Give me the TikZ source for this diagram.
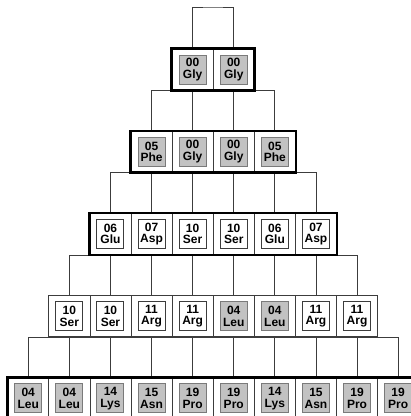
\documentclass[tikz,border=0pt]{standalone}
\usepackage{fontspec}
\setmainfont{Liberation Sans}
\usetikzlibrary{calc}
\definecolor{Wire}{HTML}{3C3C3C}
\definecolor{Shade}{HTML}{C2C2C2}
\definecolor{Rim}{HTML}{7A7A7A}
\tikzset{cell/.style={draw=Wire,line width=.8pt,minimum width=41.1pt,minimum height=41.1pt,inner sep=0pt},res/.style={line width=1pt,minimum width=27pt,minimum height=29pt,inner sep=0pt,align=center,font=\bfseries\fontsize{12}{11.5}\selectfont},band/.style={draw=black,line width=2.6pt},wire/.style={draw=Wire,line width=.8pt}}

\begin{document}
\begin{tikzpicture}[x=1pt,y=-1pt]
\useasboundingbox (0,0) rectangle (411,416);
\clip (0,0) rectangle (411,416);
% rows of residues
\foreach \num/\aa/\tone/\edge [count=\i] in {00/Gly/Shade/Rim,00/Gly/Shade/Rim}{
  \node[cell] (c1-\i) at ({213.2+(\i-1.5)*41.1},69.6) {};
  \node[res,fill=\tone,draw=\edge] (r1-\i) at (c1-\i) {\num\\\aa};}
\foreach \num/\aa/\tone/\edge [count=\i] in {05/Phe/Shade/Rim,00/Gly/Shade/Rim,00/Gly/Shade/Rim,05/Phe/Shade/Rim}{
  \node[cell] (c2-\i) at ({213.2+(\i-2.5)*41.1},151.8) {};
  \node[res,fill=\tone,draw=\edge] (r2-\i) at (c2-\i) {\num\\\aa};}
\foreach \num/\aa/\tone/\edge [count=\i] in {06/Glu/white/Wire,07/Asp/white/Wire,10/Ser/white/Wire,10/Ser/white/Wire,06/Glu/white/Wire,07/Asp/white/Wire}{
  \node[cell] (c3-\i) at ({213.2+(\i-3.5)*41.1},234) {};
  \node[res,fill=\tone,draw=\edge] (r3-\i) at (c3-\i) {\num\\\aa};}
\foreach \num/\aa/\tone/\edge [count=\i] in {10/Ser/white/Wire,10/Ser/white/Wire,11/Arg/white/Wire,11/Arg/white/Wire,04/Leu/Shade/Rim,04/Leu/Shade/Rim,11/Arg/white/Wire,11/Arg/white/Wire}{
  \node[cell] (c4-\i) at ({213.2+(\i-4.5)*41.1},316.2) {};
  \node[res,fill=\tone,draw=\edge] (r4-\i) at (c4-\i) {\num\\\aa};}
\foreach \num/\aa/\tone/\edge [count=\i] in {04/Leu/Shade/Rim,04/Leu/Shade/Rim,14/Lys/Shade/Rim,15/Asn/Shade/Rim,19/Pro/Shade/Rim,19/Pro/Shade/Rim,14/Lys/Shade/Rim,15/Asn/Shade/Rim,19/Pro/Shade/Rim,19/Pro/Shade/Rim}{
  \node[cell] (c5-\i) at ({213.2+(\i-5.5)*41.1},398.4) {};
  \node[res,fill=\tone,draw=\edge] (r5-\i) at (c5-\i) {\num\\\aa};}
% branches
\coordinate (root) at (213.2,7);
\draw[wire] (c1-1.north) |- (root) -| (c1-2.north);
\foreach \r/\m in {1/4,2/6,3/8,4/10}{
  \pgfmathtruncatemacro\s{\r+1}
  \pgfmathtruncatemacro\k{\m-1}
  \draw[wire] (c\s-1.north) |- (c\r-1.south) -| (c\s-\m.north);
  \foreach \i in {2,...,\k}
    \draw[wire] (c\s-\i.north) -- (c\s-\i.north |- c\r-1.south);}
% bold frames
\draw[band] (c1-1.north west) rectangle (c1-2.south east);
\draw[band] (c2-1.north west) rectangle (c2-4.south east);
\draw[band] (c3-1.north west) rectangle (c3-6.south east);
\draw[band] (c5-1.north west) rectangle (c5-10.south east);
\end{tikzpicture}
\end{document}
